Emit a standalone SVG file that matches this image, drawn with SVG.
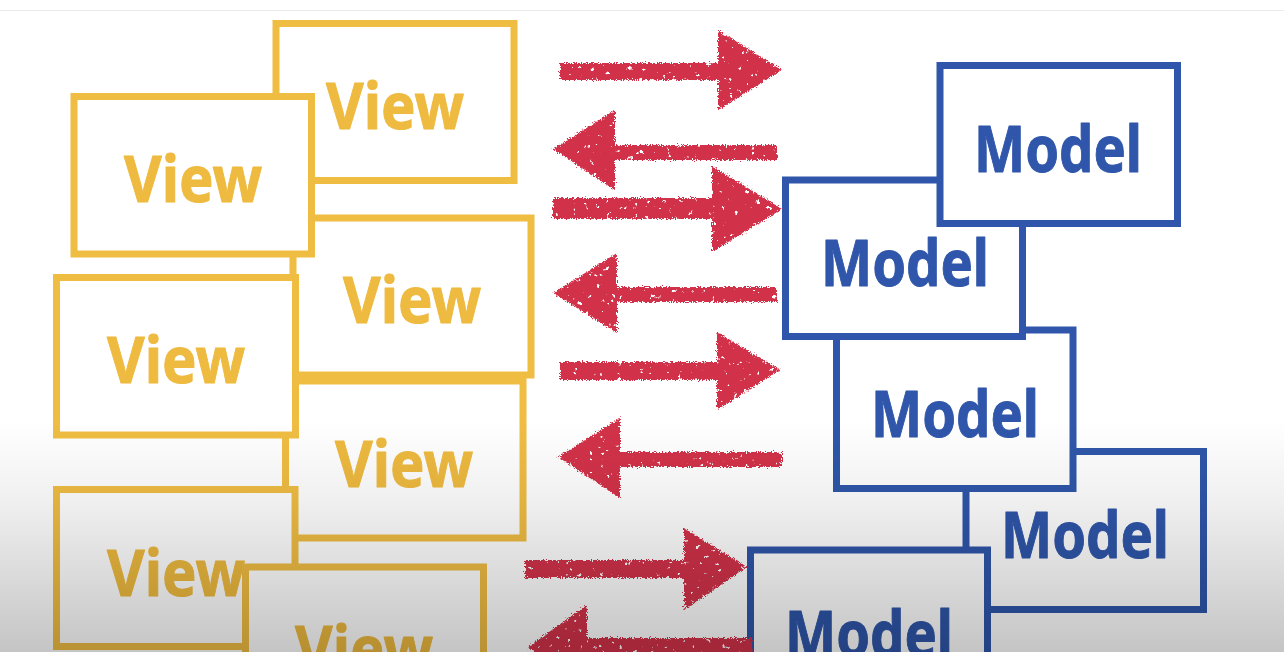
<svg xmlns="http://www.w3.org/2000/svg" width="1284" height="652" viewBox="0 0 1284 652">
<defs>
<style>
.vb{fill:#fff;stroke:#F0BD43;stroke-width:7}
.mb{fill:#fff;stroke:#2F56AA;stroke-width:7}
.vt{fill:#EEBA3F;stroke:#EEBA3F;stroke-width:1;stroke-linejoin:round;font-family:"Noto Sans","DejaVu Sans",sans-serif;font-weight:700;font-size:65px;text-anchor:middle}
.mt{fill:#2F56AA;stroke:#2F56AA;stroke-width:1;stroke-linejoin:round;font-family:"Noto Sans","DejaVu Sans",sans-serif;font-weight:700;font-size:65px;text-anchor:middle}
.ar{fill:#D2324A}
</style>
<filter id="rough" x="-5%" y="-10%" width="110%" height="120%">
<feTurbulence type="fractalNoise" baseFrequency="0.8" numOctaves="2" seed="3" result="n"/>
<feDisplacementMap in="SourceGraphic" in2="n" scale="6" xChannelSelector="R" yChannelSelector="G" result="d"/>
<feTurbulence type="fractalNoise" baseFrequency="0.18" numOctaves="3" seed="11" result="n2"/>
<feColorMatrix in="n2" type="matrix" values="0 0 0 0 0 0 0 0 0 0 0 0 0 0 0 16 0 0 0 -11.4" result="specks"/>
<feComposite in="d" in2="specks" operator="out"/>
</filter>
<linearGradient id="shade" x1="0" y1="0" x2="0" y2="1">
<stop offset="0" stop-color="#000" stop-opacity="0"/>
<stop offset="0.35" stop-color="#000" stop-opacity="0.06"/>
<stop offset="1" stop-color="#000" stop-opacity="0.23"/>
</linearGradient>
</defs>
<rect x="0" y="0" width="1284" height="652" fill="#fff"/>
<line x1="0" y1="10.5" x2="1284" y2="10.5" stroke="#ececec" stroke-width="1"/>

<g id="view1"><rect class="vb" x="276" y="23.5" width="238" height="157"/><text class="vt" x="395" y="129" textLength="138" lengthAdjust="spacingAndGlyphs">View</text></g>
<g id="view3"><rect class="vb" x="293" y="218" width="238" height="157"/><text class="vt" x="412" y="323" textLength="138" lengthAdjust="spacingAndGlyphs">View</text></g>
<g id="view2"><rect class="vb" x="74" y="96.5" width="237.5" height="157.5"/><text class="vt" x="193" y="202" textLength="138" lengthAdjust="spacingAndGlyphs">View</text></g>
<g id="view5"><rect class="vb" x="285.5" y="381" width="237.5" height="157"/><text class="vt" x="404" y="487" textLength="138" lengthAdjust="spacingAndGlyphs">View</text></g>
<g id="view4"><rect class="vb" x="56.5" y="277.5" width="239" height="157.5"/><text class="vt" x="176" y="383" textLength="138" lengthAdjust="spacingAndGlyphs">View</text></g>
<g id="view6"><rect class="vb" x="56.5" y="489.5" width="238.5" height="157"/><text class="vt" x="176" y="596" textLength="138" lengthAdjust="spacingAndGlyphs">View</text></g>
<g id="view7"><rect class="vb" x="245.5" y="567" width="238" height="157"/><text class="vt" x="364" y="672" textLength="138" lengthAdjust="spacingAndGlyphs">View</text></g>

<g id="model4"><rect class="mb" x="966" y="451.5" width="237.5" height="158"/><text class="mt" x="1085" y="558" textLength="168" lengthAdjust="spacingAndGlyphs">Model</text></g>
<g id="model3"><rect class="mb" x="836.5" y="330" width="236.5" height="158.5"/><text class="mt" x="955" y="437" textLength="168" lengthAdjust="spacingAndGlyphs">Model</text></g>
<g id="model2"><rect class="mb" x="785.5" y="180" width="237" height="156.5"/><text class="mt" x="905" y="286" textLength="168" lengthAdjust="spacingAndGlyphs">Model</text></g>
<g id="model1"><rect class="mb" x="940" y="65.5" width="237.5" height="158"/><text class="mt" x="1058" y="172" textLength="168" lengthAdjust="spacingAndGlyphs">Model</text></g>
<g id="model5"><rect class="mb" x="750.5" y="550" width="237" height="158"/><text class="mt" x="869" y="657" textLength="168" lengthAdjust="spacingAndGlyphs">Model</text></g>

<g id="connectors" class="ar" filter="url(#rough)">
<path d="M560,63 H718 V30 L782,70 L718,110 V80 H560 Z"/>
<path d="M553,149 L615,110 V145 H777 V160 H615 V190 Z"/>
<path d="M553,198 H712 V166 L782,209 L712,252 V219 H553 Z"/>
<path d="M553,293 L617,253 V287 H777 V302 H617 V333 Z"/>
<path d="M560,362 H717 V332 L780,370 L717,410 V380 H560 Z"/>
<path d="M558,457 L620,418 V452 H782 V467 H620 V498 Z"/>
<path d="M525,560 H684 V528 L747,567 L684,610 V578 H525 Z"/>
<path d="M528,647 L587,605 V638 H752 V655 H587 V690 Z"/>
</g>

<rect x="0" y="420" width="1284" height="232" fill="url(#shade)" pointer-events="none"/>
</svg>
